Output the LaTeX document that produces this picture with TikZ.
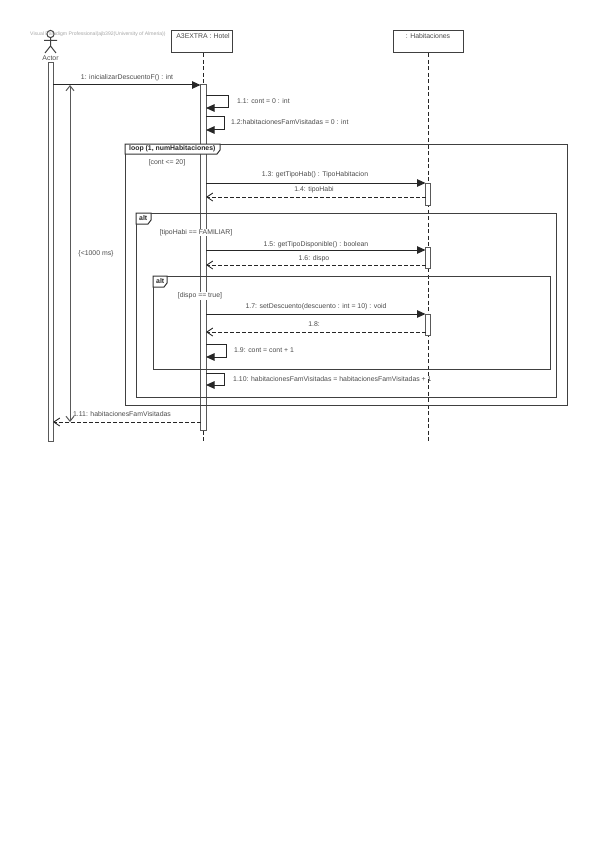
\documentclass[tikz,border=0pt]{standalone}
\usepackage{fontspec}
\setmainfont{Liberation Sans}
\usetikzlibrary{arrows.meta}
\tikzset{
    umlline/.style={draw=black!75, line width=1pt},
    msgtext/.style={text=black!70, font=\fontsize{6.9}{8}\selectfont, inner sep=0pt},
    guardtext/.style={msgtext, fill=white, inner sep=0.5pt},
    lifebox/.style={umlline, fill=white, minimum height=22pt, inner sep=0pt},
    lifeline/.style={draw=black!85, line width=0.8pt, dash pattern=on 4pt off 2.5pt},
    actbar/.style={draw=black!65, line width=1pt, fill=white},
    framebox/.style={draw=black!75, line width=1pt},
    tabbox/.style={draw=black!80, line width=1pt, fill=white},
    tabtext/.style={font=\bfseries\fontsize{6.9}{8}\selectfont, text=black!85, inner sep=0pt},
    callmsg/.style={draw=black!85, line width=1pt, -{Triangle[length=8.5pt,width=7.5pt]}},
    returnmsg/.style={draw=black!85, line width=0.9pt, dash pattern=on 4pt off 2pt, -{Straight Barb[length=6pt,width=8pt]}}
}
\begin{document}
\begin{tikzpicture}[x=1pt,y=-1pt]
    \useasboundingbox (0,0) rectangle (599,848);
    % actor and the two lifeline heads
    \draw[umlline] (50.5,34) circle (3.6)
        (50.5,37.6) -- (50.5,46)
        (44,40.5) -- (57,40.5)
        (50.5,46) -- (45,53)
        (50.5,46) -- (56,53);
    \node[msgtext] (actor) at (50.5,58.5) {Actor};
    \node[lifebox, minimum width=61pt] (hotel) at (201.5,42) {};
    \node[lifebox, minimum width=70pt] (habitaciones) at (428,42) {};
    \node[msgtext] (hotelname) at (203,36.5) {A3EXTRA : Hotel};
    \node[msgtext] (habname) at (428,36.5) {: Habitaciones};
    \coordinate (hotelend) at (203,441);
    \coordinate (habend) at (428,441);
    \draw[lifeline] (hotel.south -| hotelend) -- (hotelend);
    \draw[lifeline] (habitaciones.south) -- (habend);
    % activation bars
    \draw[actbar] (48,63) rectangle (53,441);
    \draw[actbar] (200.5,85) rectangle (206,430);
    \foreach \ya/\yb in {183/205, 247/268, 314/335}
        \draw[actbar] (425.5,\ya) rectangle (430.5,\yb);
    % combined fragments, outermost first
    \foreach \xa/\ya/\xb/\yb/\xt/\yt in {125/144/567/405/220/154, 136/213/556/397/151/224, 153/276/550/369/167/287} {
        \draw[framebox] (\xa,\ya) rectangle (\xb,\yb);
        \draw[tabbox] (\xa,\ya) -- (\xt,\ya) -- (\xt,\yt-4) -- (\xt-3,\yt) -- (\xa,\yt) -- cycle;
    }
    \node[tabtext, anchor=west] (looptab) at (129,149) {loop (1, numHabitaciones)};
    \node[tabtext, anchor=west] (alttabA) at (139,218.5) {alt};
    \node[tabtext, anchor=west] (alttabB) at (156,281.5) {alt};
    % message ends on the hotel and on the rooms
    \foreach \name/\y in {c/183, d/197, e/250, f/265, g/314, h/332} {
        \coordinate (hot\name) at (206,\y);
        \coordinate (hab\name) at (425.5,\y);
    }
    \coordinate (actorin) at (53,85);
    \coordinate (hotelin) at (200.5,85);
    \coordinate (actorout) at (53,422);
    \coordinate (hotelout) at (200.5,422);
    \draw[callmsg] (actorin) -- (hotelin);
    \draw[callmsg] (hotc) -- (habc);
    \draw[returnmsg] (habd) -- (hotd);
    \draw[callmsg] (hote) -- (habe);
    \draw[returnmsg] (habf) -- (hotf);
    \draw[callmsg] (hotg) -- (habg);
    \draw[returnmsg] (habh) -- (hoth);
    \draw[returnmsg] (hotelout) -- (actorout);
    % self calls
    \foreach \ya/\yb/\xr in {96/108/228, 117/130/224, 344/357/226, 373/385/224} {
        \coordinate (selfa) at (206,\ya);
        \coordinate (selfb) at (206,\yb);
        \draw[callmsg] (selfa) -- (\xr,\ya) -- (\xr,\yb) -- (selfb);
    }
    % duration constraint
    \coordinate (durtop) at (70,85);
    \coordinate (durbottom) at (70,422);
    \draw[draw=black!65, line width=1pt, {Straight Barb[length=5pt,width=8pt]}-{Straight Barb[length=5pt,width=8pt]}] (durtop) -- (durbottom);
    \node[msgtext] (duration) at (96,254) {\{<1000 ms\}};
    % message labels
    \node[msgtext] (m1) at (127,77.5) {1: inicializarDescuentoF() : int};
    \node[msgtext, anchor=west] (m11) at (237,101.5) {1.1: cont = 0 : int};
    \node[msgtext, anchor=west] (m12) at (231,122) {1.2:habitacionesFamVisitadas = 0 : int};
    \node[msgtext] (m13) at (315,174.5) {1.3: getTipoHab() : TipoHabitacion};
    \node[msgtext] (m14) at (314,189.5) {1.4: tipoHabi};
    \node[msgtext] (m15) at (316,245) {1.5: getTipoDisponible() : boolean};
    \node[msgtext] (m16) at (314,259) {1.6: dispo};
    \node[msgtext] (m17) at (316,307) {1.7: setDescuento(descuento : int = 10) : void};
    \node[msgtext] (m18) at (314,324.5) {1.8:};
    \node[msgtext, anchor=west] (m19) at (234,350) {1.9: cont = cont + 1};
    \node[msgtext, anchor=west] (m110) at (233,379.5) {1.10: habitacionesFamVisitadas = habitacionesFamVisitadas + 1};
    \node[msgtext] (m111) at (122,414) {1.11: habitacionesFamVisitadas};
    % guards
    \node[msgtext] (guardloop) at (167,163) {[cont <= 20]};
    \node[guardtext] (guardtipo) at (196,232.5) {[tipoHabi == FAMILIAR]};
    \node[guardtext] (guarddispo) at (200,296) {[dispo == true]};
    % watermark
    \node[text=black!35, font=\fontsize{5.1}{6}\selectfont, inner sep=0pt, anchor=west] (mark) at (30,34) {Visual Paradigm Professional(ajb392(University of Almeria))};
\end{tikzpicture}
\end{document}
